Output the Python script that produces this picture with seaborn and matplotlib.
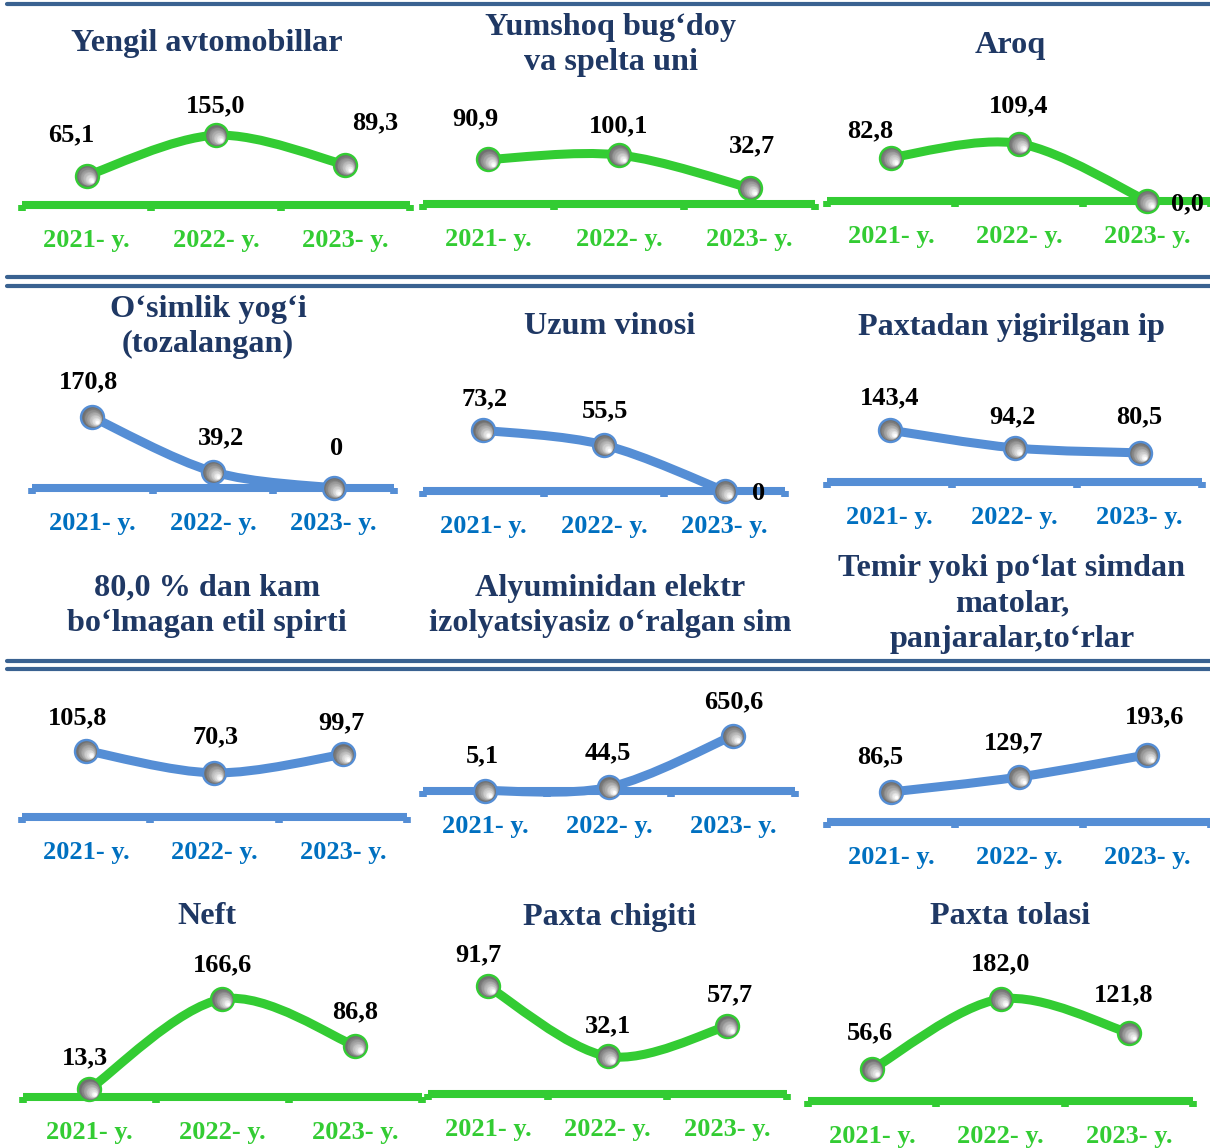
import matplotlib
matplotlib.use("Agg")
import matplotlib.pyplot as plt
import matplotlib.transforms as mtransforms
from matplotlib.path import Path
from matplotlib.patches import PathPatch
from matplotlib.lines import Line2D
import seaborn as sns

# --- DATA ---
years = ["2021- y.", "2022- y.", "2023- y."]

titles = [
    "Yengil avtomobillar",
    "Yumshoq bug\u2018doy\nva spelta uni",
    "Aroq",
    "O\u2018simlik yog\u2018i\n(tozalangan)",
    "Uzum vinosi",
    "Paxtadan yigirilgan ip",
    "80,0 % dan kam\nbo\u2018lmagan etil spirti",
    "Alyuminidan elektr\nizolyatsiyasiz o\u2018ralgan sim",
    "Temir yoki po\u2018lat simdan\nmatolar,\npanjaralar,to\u2018rlar",
    "Neft",
    "Paxta chigiti",
    "Paxta tolasi",
]

yengil_avtomobillar = [65.1, 155.0, 89.3]
yumshoq_bugdoy_uni = [90.9, 100.1, 32.7]
aroq = [82.8, 109.4, 0.0]
osimlik_yogi = [170.8, 39.2, 0.0]
uzum_vinosi = [73.2, 55.5, 0.0]
paxtadan_ip = [143.4, 94.2, 80.5]
etil_spirti = [105.8, 70.3, 99.7]
alyuminiy_sim = [5.1, 44.5, 650.6]
temir_matolar = [86.5, 129.7, 193.6]
neft = [13.3, 166.6, 86.8]
paxta_chigiti = [91.7, 32.1, 57.7]
paxta_tolasi = [56.6, 182.0, 121.8]

series = [yengil_avtomobillar, yumshoq_bugdoy_uni, aroq,
          osimlik_yogi, uzum_vinosi, paxtadan_ip,
          etil_spirti, alyuminiy_sim, temir_matolar,
          neft, paxta_chigiti, paxta_tolasi]

# panels where a zero is printed as plain "0"
plain_zero = {3, 4}

# --- LAYOUT (pixels in a 1210x1148 canvas) ---
W, H = 1210, 1148
GREEN = dict(line="#33CC33", tick="#33CC33")
BLUE = dict(line="#558ED5", tick="#0070C0")
TITLE_C = "#1F3864"
SEP_C = "#3A6291"

# xl, xr, baseline y, px per unit, title x, title y, palette, label offsets (px)
layout = [
    (22, 410, 205, 0.450, 207, 44, GREEN, [(-15, -41), (0, -29), (30, -42)]),
    (423, 815, 204, 0.490, 611, 45, GREEN, [(-13, -41), (0, -29), (2, -42)]),
    (827, 1211, 201, 0.525, 1010, 45, GREEN, [(-21, -27), (0, -38), (40, 3)]),
    (32, 394, 488, 0.415, 208, 327, BLUE, [(-4, -35), (8, -34), (3, -40)]),
    (423, 785, 491, 0.830, 610, 327, BLUE, [(1, -31), (1, -34), (34, 3)]),
    (827, 1202, 482, 0.362, 1011, 328, BLUE, [(0, -32), (-2, -31), (0, -36)]),
    (22, 407, 817, 0.627, 207, 606, BLUE, [(-9, -33), (1, -36), (-1, -32)]),
    (423, 795, 791, 0.085, 610, 606, BLUE, [(-3, -35), (-1, -34), (1, -34)]),
    (827, 1211, 822, 0.347, 1012, 604, BLUE, [(-11, -35), (-5, -34), (8, -38)]),
    (23, 422, 1097, 0.588, 207, 917, GREEN, [(-5, -31), (0, -34), (0, -34)]),
    (428, 787, 1094, 1.175, 610, 917, GREEN, [(-9, -31), (0, -30), (3, -31)]),
    (808, 1193, 1101, 0.560, 1010, 917, GREEN, [(-2, -36), (0, -35), (-5, -38)]),
]

sns.set_theme(style="white")
plt.rcParams["font.family"] = ["Liberation Serif", "DejaVu Serif"]
plt.rcParams["font.weight"] = "bold"

fig = plt.figure(figsize=(W / 100, H / 100), dpi=100)
fig.patch.set_facecolor("white")


def smooth_path(xs, ys):
    # Catmull-Rom style bezier through the points (like Excel's smoothed line)
    pts = list(zip(xs, ys))
    ext = [pts[0]] + pts + [pts[-1]]
    verts = [pts[0]]
    codes = [Path.MOVETO]
    for i in range(1, len(ext) - 2):
        p0, p1, p2, p3 = ext[i - 1], ext[i], ext[i + 1], ext[i + 2]
        c1 = (p1[0] + (p2[0] - p0[0]) / 6, p1[1] + (p2[1] - p0[1]) / 6)
        c2 = (p2[0] - (p3[0] - p1[0]) / 6, p2[1] - (p3[1] - p1[1]) / 6)
        verts += [c1, c2, p2]
        codes += [Path.CURVE4] * 3
    return Path(verts, codes)


def sphere_markers(ax, xs, ys, edge):
    D = 23.0  # marker diameter in px
    sns.scatterplot(x=xs, y=ys, ax=ax, s=(D * 0.72) ** 2, color="#707070",
                    edgecolor=edge, linewidth=1.7, zorder=5, legend=False,
                    clip_on=False)
    n = 14
    for k in range(1, n + 1):
        f = k / n
        d = (D - 3) * (1 - 0.85 * f)
        off = ((D - 3) - d) / 2 * 0.6
        tr = ax.transData + mtransforms.ScaledTranslation(off / 100, -off / 100, fig.dpi_scale_trans)
        g = 0.44 + 0.56 * f
        ax.scatter(xs, ys, s=(d * 0.72) ** 2, color=(g, g, g), linewidths=0,
                   transform=tr, zorder=5 + k * 0.01, clip_on=False)


xs = [0, 1, 2]
for idx, (vals, lay) in enumerate(zip(series, layout)):
    xl, xr, base, ppu, tx, ty, pal, offs = lay
    ax_h = 100
    ax = fig.add_axes([xl / W, 1 - base / H, (xr - xl) / W, ax_h / H])
    ax.set_facecolor("none")
    ax.set_xlim(-0.5, 2.5)
    ax.set_ylim(0, ax_h / ppu)
    for s in ["top", "left", "right"]:
        ax.spines[s].set_visible(False)
    ax.spines["bottom"].set_color(pal["line"])
    ax.spines["bottom"].set_linewidth(5.8)
    ax.spines["bottom"].set_capstyle("butt")
    ax.set_yticks([])
    ax.set_xticks([-0.5, 0.5, 1.5, 2.5], labels=["", "", "", ""])
    ax.tick_params(axis="x", which="major", direction="out", length=4.5,
                   width=5.5, color=pal["line"], bottom=True)
    ax.set_xticks(xs, labels=years, minor=True)
    ax.tick_params(axis="x", which="minor", length=0, pad=17,
                   labelsize=19, labelcolor=pal["tick"])
    for lab in ax.get_xticklabels(minor=True):
        lab.set_fontweight("bold")

    patch = PathPatch(smooth_path(xs, vals), facecolor="none", edgecolor=pal["line"],
                      lw=6.5, capstyle="round", joinstyle="round", zorder=4, clip_on=False)
    ax.add_patch(patch)
    sphere_markers(ax, xs, vals, pal["line"])

    for i, v in enumerate(vals):
        if v == 0 and idx in plain_zero:
            txt = "0"
        else:
            txt = f"{v:.1f}".replace(".", ",")
        dx, dy = offs[i]
        ax.annotate(txt, (i, v), xytext=(dx * 0.72, -dy * 0.72), textcoords="offset points",
                    ha="center", va="center", fontsize=19, fontweight="bold",
                    color="black", zorder=7, annotation_clip=False)

    fig.text(tx / W, 1 - ty / H, titles[idx], ha="center", va="center",
             fontsize=23.2, fontweight="bold", color=TITLE_C, linespacing=1.3)

# separator lines
fig.add_artist(Line2D([7 / W, 1], [1 - 4 / H] * 2, color=SEP_C, lw=3, transform=fig.transFigure))
for y in [277, 286, 661, 669]:
    fig.add_artist(Line2D([7 / W, 1], [1 - y / H] * 2, color=SEP_C, lw=3, transform=fig.transFigure))

fig.savefig("out.png", dpi=100, facecolor="white")
